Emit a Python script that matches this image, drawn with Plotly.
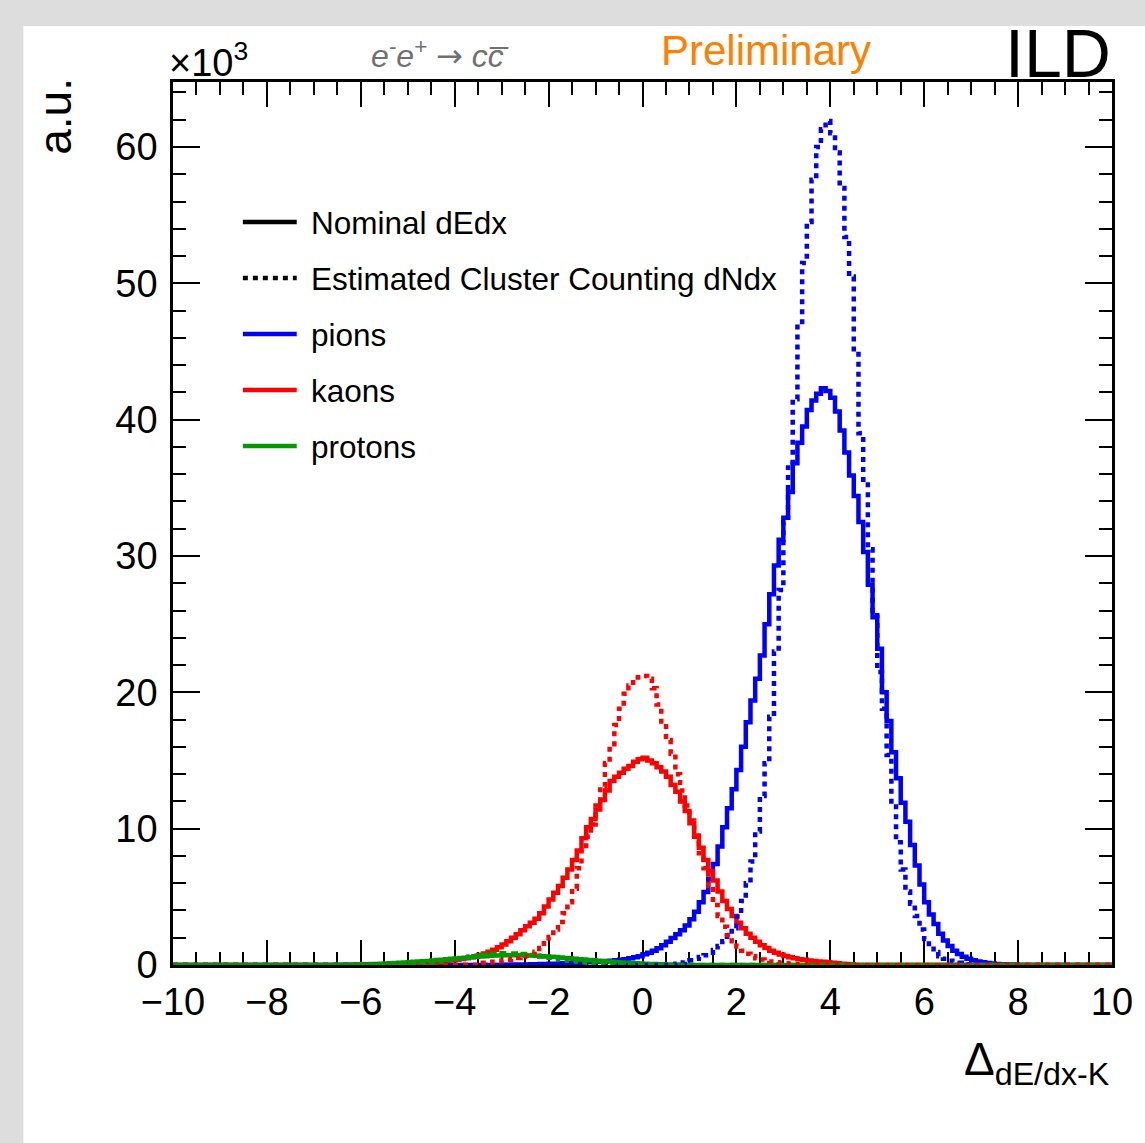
import numpy as np
import plotly.graph_objects as go

# ---------------- data (values in units of 10^3) ----------------
bin_lo, bin_hi, bin_w = -10.0, 10.0, 0.1

pion_dedx_start = -2.95
pion_dedx = [0.02, 0.02, 0.03, 0.03, 0.04, 0.04, 0.05, 0.06, 0.07, 0.08,
             0.09, 0.10, 0.11, 0.12, 0.13, 0.15, 0.16, 0.18, 0.20, 0.22,
             0.24, 0.26, 0.29, 0.32, 0.35, 0.39, 0.43, 0.49, 0.56, 0.64,
             0.78, 0.90, 1.05, 1.22, 1.45, 1.70, 1.98, 2.25, 2.55, 2.90,
             3.35, 3.90, 4.60, 5.35, 6.30, 7.40, 8.70, 10.1, 11.5, 12.9,
             14.3, 16.0, 17.8, 19.4, 21.0, 22.7, 25.0, 27.2, 29.3, 31.2,
             32.8, 34.7, 36.8, 38.3, 39.5, 40.7, 41.4, 41.9, 42.3, 42.1,
             41.6, 40.6, 39.2, 37.6, 35.9, 34.4, 32.5, 30.3, 27.9, 25.5,
             23.2, 20.0, 17.9, 15.6, 13.7, 11.9, 10.5, 8.8, 7.3, 5.9,
             4.6, 3.7, 3.0, 2.3, 1.8, 1.40, 1.05, 0.80, 0.60, 0.45,
             0.34, 0.26, 0.20, 0.15, 0.11, 0.08, 0.06, 0.04, 0.03, 0.02]

pion_dndx_start = 0.75
pion_dndx = [0.10, 0.18, 0.26, 0.35, 0.45, 0.58, 0.72, 0.90, 1.10, 1.40,
             1.75, 2.15, 2.70, 3.55, 4.70, 6.00, 7.60, 9.80, 12.4, 14.8,
             18.2, 23.0, 27.5, 32.5, 36.5, 41.5, 47.0, 51.5, 54.5, 57.6,
             60.0, 61.3, 61.9, 61.0, 59.6, 57.0, 53.4, 50.5, 45.0, 39.0,
             35.6, 30.5, 26.0, 21.5, 18.8, 15.4, 11.8, 9.0, 7.0, 5.4,
             4.5, 3.6, 2.6, 1.9, 1.35, 0.95, 0.65, 0.45, 0.32, 0.24,
             0.16, 0.10, 0.06, 0.03]

kaon_dedx_start = -4.95
kaon_dedx = [0.08, 0.10, 0.12, 0.14, 0.16, 0.18, 0.21, 0.25, 0.29, 0.34,
             0.39, 0.44, 0.50, 0.57, 0.65, 0.74, 0.85, 0.98, 1.12, 1.30,
             1.50, 1.75, 2.00, 2.25, 2.55, 2.85, 3.10, 3.40, 3.80, 4.30,
             4.80, 5.30, 5.80, 6.40, 7.00, 7.70, 8.40, 9.30, 10.1, 10.7,
             11.4, 12.1, 12.8, 13.5, 13.8, 14.1, 14.4, 14.6, 14.9, 15.1,
             15.2, 15.0, 14.8, 14.5, 14.2, 13.8, 13.2, 12.7, 12.0, 11.3,
             10.4, 9.5, 8.6, 7.7, 6.9, 6.2, 5.4, 4.7, 4.1, 3.6,
             3.1, 2.7, 2.3, 2.0, 1.7, 1.45, 1.25, 1.05, 0.90, 0.77,
             0.66, 0.57, 0.49, 0.43, 0.38, 0.33, 0.29, 0.26, 0.23, 0.20,
             0.16, 0.13, 0.10, 0.07, 0.05]

kaon_dndx_start = -3.45
kaon_dndx = [0.12, 0.16, 0.20, 0.24, 0.28, 0.33, 0.38, 0.44, 0.51, 0.58,
             0.67, 0.80, 0.98, 1.25, 1.60, 2.05, 2.60, 3.15, 3.80, 4.60,
             5.60, 7.10, 8.40, 9.40, 10.3, 11.7, 13.1, 14.8, 16.2, 17.6,
             18.8, 19.9, 20.5, 20.9, 21.1, 21.2, 21.0, 20.3, 19.1, 17.7,
             16.5, 15.5, 14.0, 12.8, 11.7, 10.6, 9.4, 8.2, 7.1, 5.8,
             4.4, 3.6, 2.8, 2.2, 1.75, 1.35, 1.05, 0.82, 0.64, 0.50,
             0.40, 0.32, 0.26, 0.21, 0.16, 0.12, 0.08, 0.05]

proton_dedx_start = -6.45
proton_dedx = [0.02, 0.02, 0.03, 0.03, 0.04, 0.05, 0.06, 0.07, 0.08, 0.09,
               0.11, 0.13, 0.15, 0.17, 0.19, 0.21, 0.23, 0.25, 0.28, 0.30,
               0.33, 0.36, 0.39, 0.42, 0.45, 0.48, 0.51, 0.54, 0.57, 0.60,
               0.62, 0.65, 0.67, 0.69, 0.70, 0.71, 0.72, 0.72, 0.72, 0.71,
               0.70, 0.69, 0.67, 0.65, 0.63, 0.60, 0.58, 0.55, 0.52, 0.49,
               0.46, 0.43, 0.40, 0.37, 0.34, 0.31, 0.28, 0.26, 0.23, 0.21,
               0.19, 0.17, 0.15, 0.13, 0.11, 0.10, 0.08, 0.07, 0.06, 0.05,
               0.04, 0.03, 0.03, 0.02, 0.02]

proton_dndx_start = -5.45
proton_dndx = [0.02, 0.03, 0.04, 0.05, 0.06, 0.08, 0.10, 0.12, 0.15, 0.18,
               0.21, 0.25, 0.29, 0.34, 0.39, 0.44, 0.50, 0.56, 0.62, 0.67,
               0.72, 0.76, 0.80, 0.83, 0.85, 0.86, 0.86, 0.85, 0.83, 0.80,
               0.77, 0.73, 0.68, 0.63, 0.58, 0.53, 0.47, 0.42, 0.37, 0.32,
               0.28, 0.24, 0.20, 0.17, 0.14, 0.11, 0.09, 0.07, 0.05, 0.04,
               0.03, 0.02, 0.02]

x_ticks = [-10, -8, -6, -4, -2, 0, 2, 4, 6, 8, 10]
y_ticks = [0, 10, 20, 30, 40, 50, 60]

legend_labels = ["Nominal dEdx", "Estimated Cluster Counting dNdx",
                 "pions", "kaons", "protons"]

# ---------------- helpers ----------------
nbins = int(round((bin_hi - bin_lo) / bin_w))
edges = np.round(bin_lo + bin_w * np.arange(nbins + 1), 4)


def histo(start_center, values):
    full = np.zeros(nbins)
    i0 = int(round((start_center - bin_w / 2 - bin_lo) / bin_w))
    full[i0:i0 + len(values)] = values
    ys = list(full) + [full[-1]]
    return list(edges), ys


BLUE, RED, GREEN = "#0000ff", "#ff0000", "#009a00"
DOT = "5px,5px"
LW = 4.5

W, H = 1145, 1143
L, R, T, B = 173, 1114, 82, 965


def px(p):
    return (p - L) / (R - L)


def py(q):
    return (B - q) / (B - T)


fig = go.Figure()
series = [
    (pion_dedx_start, pion_dedx, BLUE, "solid"),
    (kaon_dedx_start, kaon_dedx, RED, "solid"),
    (proton_dedx_start, proton_dedx, GREEN, "solid"),
    (pion_dndx_start, pion_dndx, BLUE, DOT),
    (kaon_dndx_start, kaon_dndx, RED, DOT),
    (proton_dndx_start, proton_dndx, GREEN, DOT),
]
for s, v, c, d in series:
    xs, ys = histo(s, v)
    fig.add_trace(go.Scatter(x=xs, y=ys, mode="lines", line_shape="hv",
                             line=dict(color=c, width=LW, dash=d),
                             showlegend=False, hoverinfo="skip"))

FONT = "Liberation Sans, Arial, Helvetica, sans-serif"

axis_common = dict(showgrid=False, zeroline=False, showline=True,
                   linecolor="black", linewidth=2.5, mirror="allticks",
                   ticks="inside", tickwidth=2, tickcolor="black",
                   layer="below traces",
                   tickfont=dict(family=FONT, size=38, color="black"))

fig.update_xaxes(range=[bin_lo, bin_hi], tickvals=x_ticks, ticklen=25,
                 ticklabelstandoff=2,
                 minor=dict(dtick=0.5, tick0=-10, ticklen=13, tickwidth=2,
                            ticks="inside", tickcolor="black"),
                 **axis_common)
fig.update_yaxes(range=[0, (B - T) / ((B - 147) / 60.0)], tickvals=y_ticks,
                 ticklen=27, ticklabelstandoff=5,
                 minor=dict(dtick=2, tick0=0, ticklen=13, tickwidth=2,
                            ticks="inside", tickcolor="black"),
                 **axis_common)

shapes = [
    dict(type="rect", xref="paper", yref="paper", x0=px(-5), x1=px(23),
         y0=py(H + 5), y1=py(-5), fillcolor="#dddddd", line_width=0,
         layer="below"),
    dict(type="rect", xref="paper", yref="paper", x0=px(-5), x1=px(W + 5),
         y0=py(26), y1=py(-5), fillcolor="#dddddd", line_width=0,
         layer="below"),
]

# legend (drawn manually, ROOT-TLegend style)
leg_y = [222, 278, 334, 390, 446]
leg_style = [("black", "solid"), ("black", DOT), (BLUE, "solid"),
             (RED, "solid"), (GREEN, "solid")]
annotations = []
for yy, lab, (c, d) in zip(leg_y, legend_labels, leg_style):
    shapes.append(dict(type="line", xref="paper", yref="paper",
                       x0=px(243), x1=px(297), y0=py(yy), y1=py(yy),
                       line=dict(color=c, width=LW, dash=d)))
    annotations.append(dict(x=px(309), y=py(yy + 1), xref="paper",
                            yref="paper", xanchor="left", yanchor="middle",
                            text=lab, showarrow=False,
                            font=dict(family=FONT, size=31.5, color="black")))

arrow = '<span style="font-family:DejaVu Sans;font-style:normal">→</span>'
annotations += [
    dict(x=px(167), y=py(86), xref="paper", yref="paper", xanchor="left",
         yanchor="bottom", text="×10<sup>3</sup>", showarrow=False,
         font=dict(family=FONT, size=38, color="black")),
    dict(x=px(441), y=py(54), xref="paper", yref="paper", xanchor="center",
         yanchor="middle",
         text="<i>e<sup>-</sup>e<sup>+</sup> </i>" + arrow +
              "<i> cc\u0305</i>",
         showarrow=False, font=dict(family=FONT, size=32, color="#707070")),
    dict(x=px(767), y=py(51), xref="paper", yref="paper", xanchor="center",
         yanchor="middle", text="Preliminary", showarrow=False,
         font=dict(family=FONT, size=42, color="#ff8000")),
    dict(x=px(1115), y=py(53), xref="paper", yref="paper", xanchor="right",
         yanchor="middle", text="ILD", showarrow=False,
         font=dict(family=FONT, size=68, color="black")),
    dict(x=px(54), y=py(76), xref="paper", yref="paper", xanchor="center",
         yanchor="top", text="a.u.", textangle=-90, showarrow=False,
         font=dict(family=FONT, size=46, color="black")),
    dict(x=px(1114), y=py(1094), xref="paper", yref="paper",
         xanchor="right", yanchor="bottom",
         text="Δ<sub>dE/dx-K</sub>", showarrow=False,
         font=dict(family=FONT, size=46, color="black")),
]

fig.update_layout(width=W, height=H, autosize=False,
                  margin=dict(l=L, r=W - R, t=T, b=H - B, pad=0),
                  paper_bgcolor="white", plot_bgcolor="rgba(0,0,0,0)",
                  shapes=shapes, annotations=annotations, showlegend=False,
                  font=dict(family=FONT))

fig.write_html("out.html")
